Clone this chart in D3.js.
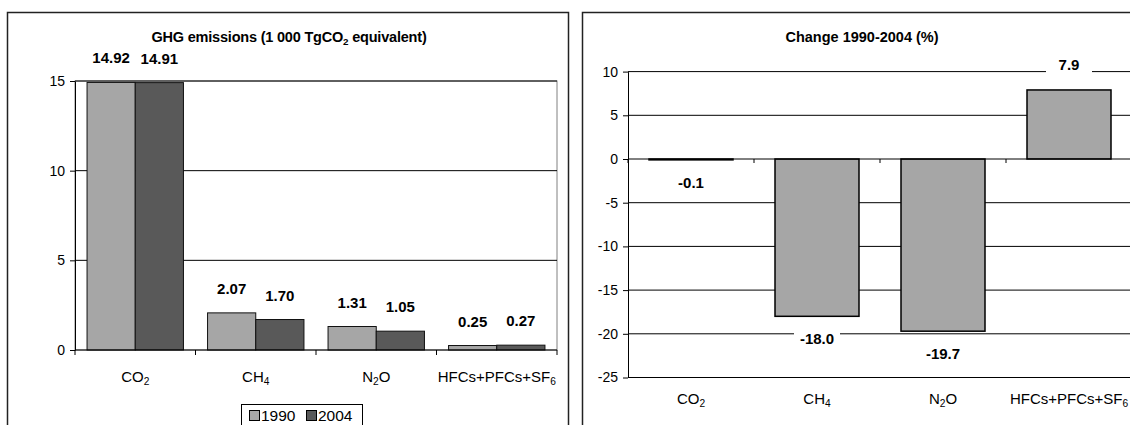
<!DOCTYPE html>
<html>
<head>
<meta charset="utf-8">
<script src="https://cdn.jsdelivr.net/npm/d3@7"></script>
<style>
  body { margin: 0; background: #fff; }
  svg { display: block; font-family: "Liberation Sans", Arial, sans-serif; }
</style>
</head>
<body>
<svg id="chart" width="1130" height="425"></svg>
<script>
// Greenhouse gas categories (digits after a capital are drawn as subscripts)
const categories = ["CO2", "CH4", "N2O", "HFCs+PFCs+SF6"];
const years = ["1990", "2004"];
// Emissions, 1 000 TgCO2 equivalent
const emissions1990 = [14.92, 2.07, 1.31, 0.25];
const emissions2004 = [14.91, 1.70, 1.05, 0.27];
// Change 1990-2004, percent
const changePct = [-0.1, -18.0, -19.7, 7.9];
const emissionTicks = [0, 5, 10, 15];
const changeTicks = [10, 5, 0, -5, -10, -15, -20, -25];

const yearColors = { "1990": "#a6a6a6", "2004": "#595959" };
const svg = d3.select("#chart");
const plainNumber = d => String(d);   // keeps an ASCII hyphen for negatives

// Write text into a <text>, turning formula digits (after a capital letter) into subscripts
function chemText(sel, str, size) {
  const parts = str.split(/(?<=[A-Z])(\d)/);
  parts.forEach((p, i) => {
    if (!p) return;
    if (i % 2 === 1) {
      sel.append("tspan").attr("font-size", size * 0.68).attr("dy", size * 0.22).text(p);
    } else {
      const t = sel.append("tspan").text(p);
      if (i > 0) t.attr("dy", -size * 0.22);
    }
  });
}

// Panel frames
svg.append("rect").attr("x", 7.5).attr("y", 12.5).attr("width", 561).attr("height", 440)
  .attr("fill", "none").attr("stroke", "#222").attr("stroke-width", 1.5);
svg.append("rect").attr("x", 582.5).attr("y", 12.5).attr("width", 600).attr("height", 440)
  .attr("fill", "none").attr("stroke", "#222").attr("stroke-width", 1.5);

/* ---------- Left panel: emissions by gas ---------- */
{
  const g = svg.append("g");
  const x0 = d3.scaleBand().domain(categories).range([75, 557]).paddingInner(0.2).paddingOuter(0.1);
  const x1 = d3.scaleBand().domain(years).range([0, x0.bandwidth()]);
  const y = d3.scaleLinear().domain([0, 15]).range([350, 81]);

  g.append("text").attr("x", 289).attr("y", 42).attr("text-anchor", "middle")
    .attr("font-size", 14.5).attr("font-weight", "bold").attr("letter-spacing", -0.2)
    .call(s => chemText(s, "GHG emissions (1 000 TgCO2 equivalent)", 14.5));

  // plot area frame and gridlines
  g.append("rect").attr("x", 75).attr("y", y(15)).attr("width", 557 - 75).attr("height", y(0) - y(15))
    .attr("fill", "none").attr("stroke", "#808080");
  g.selectAll("line.grid").data(emissionTicks.filter(d => d > 0)).join("line")
    .attr("x1", 75).attr("x2", 557).attr("y1", d => y(d)).attr("y2", d => y(d))
    .attr("stroke", "#000");

  const rows = categories.map((c, i) => ({ c, v: [emissions1990[i], emissions2004[i]] }));
  const groups = g.selectAll("g.cat").data(rows).join("g").attr("transform", d => `translate(${x0(d.c)},0)`);
  groups.selectAll("rect").data(d => d.v.map((v, j) => ({ year: years[j], v }))).join("rect")
    .attr("x", d => x1(d.year)).attr("width", x1.bandwidth())
    .attr("y", d => y(d.v)).attr("height", d => y(0) - y(d.v))
    .attr("fill", d => yearColors[d.year]).attr("stroke", "#111").attr("stroke-width", 1);
  groups.selectAll("text").data(d => d.v.map((v, j) => ({ year: years[j], v }))).join("text")
    .attr("x", d => x1(d.year) + x1.bandwidth() / 2).attr("y", d => y(d.v) - 19)
    .attr("text-anchor", "middle").attr("font-size", 15).attr("font-weight", "bold")
    .text(d => d.v.toFixed(2));

  // axes
  const ya = g.append("g").attr("transform", "translate(75,0)")
    .call(d3.axisLeft(y).tickValues(emissionTicks).tickFormat(plainNumber)
      .tickSize(5).tickSizeOuter(0).tickPadding(5));
  ya.select(".domain").attr("stroke", "#000");
  ya.selectAll("text").attr("font-size", 14).attr("font-family", "Liberation Sans, Arial, sans-serif");
  g.append("line").attr("x1", 75).attr("x2", 557).attr("y1", y(0)).attr("y2", y(0)).attr("stroke", "#000");
  const bounds = categories.map(c => x0(c) - (x0.step() - x0.bandwidth()) / 2).concat([557]);
  g.selectAll("line.xt").data(bounds).join("line")
    .attr("x1", d => d).attr("x2", d => d).attr("y1", y(0)).attr("y2", y(0) + 5).attr("stroke", "#000");
  categories.forEach(c => {
    g.append("text").attr("x", x0(c) + x0.bandwidth() / 2).attr("y", 382).attr("text-anchor", "middle")
      .attr("font-size", 15).call(s => chemText(s, c, 15));
  });

  // legend
  const lg = g.append("g").attr("transform", "translate(241,404)");
  lg.append("rect").attr("x", 0.5).attr("y", 0.5).attr("width", 121).attr("height", 30)
    .attr("fill", "#fff").attr("stroke", "#000");
  years.forEach((yr, i) => {
    const gx = 8 + i * 57;
    lg.append("rect").attr("x", gx + 0.5).attr("y", 6.5).attr("width", 10).attr("height", 10)
      .attr("fill", yearColors[yr]).attr("stroke", "#000");
    lg.append("text").attr("x", gx + 12).attr("y", 16.5).attr("font-size", 15.5).text(yr);
  });
}

/* ---------- Right panel: change 1990-2004 ---------- */
{
  const g = svg.append("g");
  const x = d3.scaleBand().domain(categories).range([628, 1132]).paddingInner(1 / 3).paddingOuter(1 / 6);
  const y = d3.scaleLinear().domain([-25, 10]).range([377.5, 71.6]);

  g.append("text").attr("x", 862).attr("y", 42).attr("text-anchor", "middle")
    .attr("font-size", 14.5).attr("font-weight", "bold").text("Change 1990-2004 (%)");

  g.selectAll("line.grid").data(changeTicks.filter(d => d !== 0)).join("line")
    .attr("x1", 628).attr("x2", 1132).attr("y1", d => y(d)).attr("y2", d => y(d))
    .attr("stroke", "#000");

  const rows = categories.map((c, i) => ({ c, v: changePct[i] }));
  g.selectAll("rect.bar").data(rows).join("rect")
    .attr("x", d => x(d.c)).attr("width", x.bandwidth())
    .attr("y", d => y(Math.max(0, d.v))).attr("height", d => Math.abs(y(d.v) - y(0)))
    .attr("fill", "#a6a6a6").attr("stroke", "#000").attr("stroke-width", 1.5);

  // zero line and category ticks
  g.append("line").attr("x1", 628).attr("x2", 1132).attr("y1", y(0)).attr("y2", y(0)).attr("stroke", "#000");
  const bounds = categories.map(c => x(c) - (x.step() - x.bandwidth()) / 2);
  g.selectAll("line.xt").data(bounds).join("line")
    .attr("x1", d => d).attr("x2", d => d).attr("y1", y(0)).attr("y2", y(0) + 4).attr("stroke", "#000");

  // value labels on a white backing
  const labels = g.selectAll("g.lab").data(rows).join("g")
    .attr("transform", d => `translate(${x(d.c) + x.bandwidth() / 2},${d.v >= 0 ? y(d.v) - 20 : y(d.v) + 28})`);
  labels.append("rect").attr("x", -23).attr("y", -14).attr("width", 46).attr("height", 18).attr("fill", "#fff");
  labels.append("text").attr("text-anchor", "middle").attr("font-size", 15).attr("font-weight", "bold")
    .text(d => d.v.toFixed(1));

  const ya = g.append("g").attr("transform", "translate(628,0)")
    .call(d3.axisLeft(y).tickValues(changeTicks).tickFormat(plainNumber)
      .tickSize(5).tickSizeOuter(0).tickPadding(5));
  ya.select(".domain").attr("stroke", "#000");
  ya.selectAll("text").attr("font-size", 14).attr("font-family", "Liberation Sans, Arial, sans-serif");

  categories.forEach(c => {
    g.append("text").attr("x", x(c) + x.bandwidth() / 2).attr("y", 404).attr("text-anchor", "middle")
      .attr("font-size", 15).call(s => chemText(s, c, 15));
  });
}
</script>
</body>
</html>
